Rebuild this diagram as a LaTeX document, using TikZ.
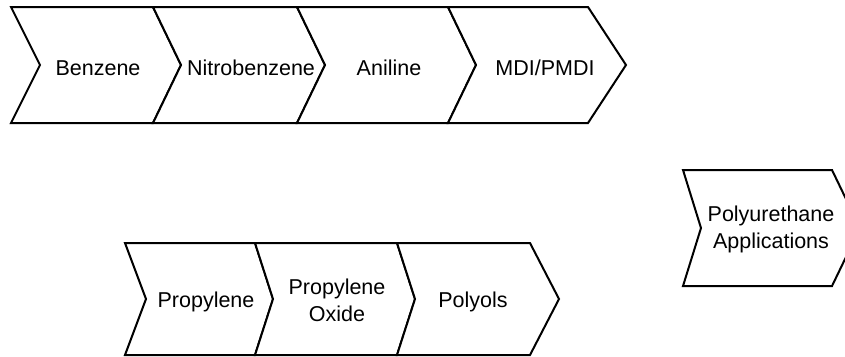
\documentclass[tikz,border=0pt]{standalone}
\usepackage{fontspec}
\setmainfont{Liberation Sans}
\begin{document}
\begin{tikzpicture}[x=1pt,y=-1pt,
  chev/.style={draw=black,line width=2pt,line join=miter,fill=white},
  lbl/.style={font=\fontsize{21.5}{27}\selectfont,align=center,inner sep=0pt}]
\useasboundingbox (0,0) rectangle (845,356);
% top row
\draw[chev] (11,7) -- (153,7) -- (181,65) -- (153,123) -- (11,123) -- (40,65) -- cycle;
\draw[chev] (153,7) -- (297,7) -- (325,65) -- (297,123) -- (153,123) -- (181,65) -- cycle;
\draw[chev] (297,7) -- (448,7) -- (476,65) -- (448,123) -- (297,123) -- (325,65) -- cycle;
\draw[chev] (448,7) -- (588,7) -- (626,65) -- (588,123) -- (448,123) -- (476,65) -- cycle;
\node[lbl] (benzene) at (98,68) {Benzene};
\node[lbl] (nitro) at (251,68) {Nitrobenzene};
\node[lbl] (aniline) at (389,68) {Aniline};
\node[lbl] (mdi) at (545,68) {MDI/PMDI};
% bottom row
\draw[chev] (125,243) -- (255,243) -- (273,299) -- (255,355) -- (125,355) -- (146,299) -- cycle;
\draw[chev] (255,243) -- (397,243) -- (415,299) -- (397,355) -- (255,355) -- (273,299) -- cycle;
\draw[chev] (397,243) -- (530,243) -- (559,299) -- (530,355) -- (397,355) -- (415,299) -- cycle;
\node[lbl] (propylene) at (206,302) {Propylene};
\node[lbl] (po) at (337,300) {Propylene\\Oxide};
\node[lbl] (polyols) at (473,302) {Polyols};
% polyurethane
\draw[chev] (683,170) -- (832,170) -- (860,228) -- (832,286) -- (683,286) -- (701,228) -- cycle;
\node[lbl] (pu) at (771,229) {Polyurethane\\Applications};
\end{tikzpicture}
\end{document}
